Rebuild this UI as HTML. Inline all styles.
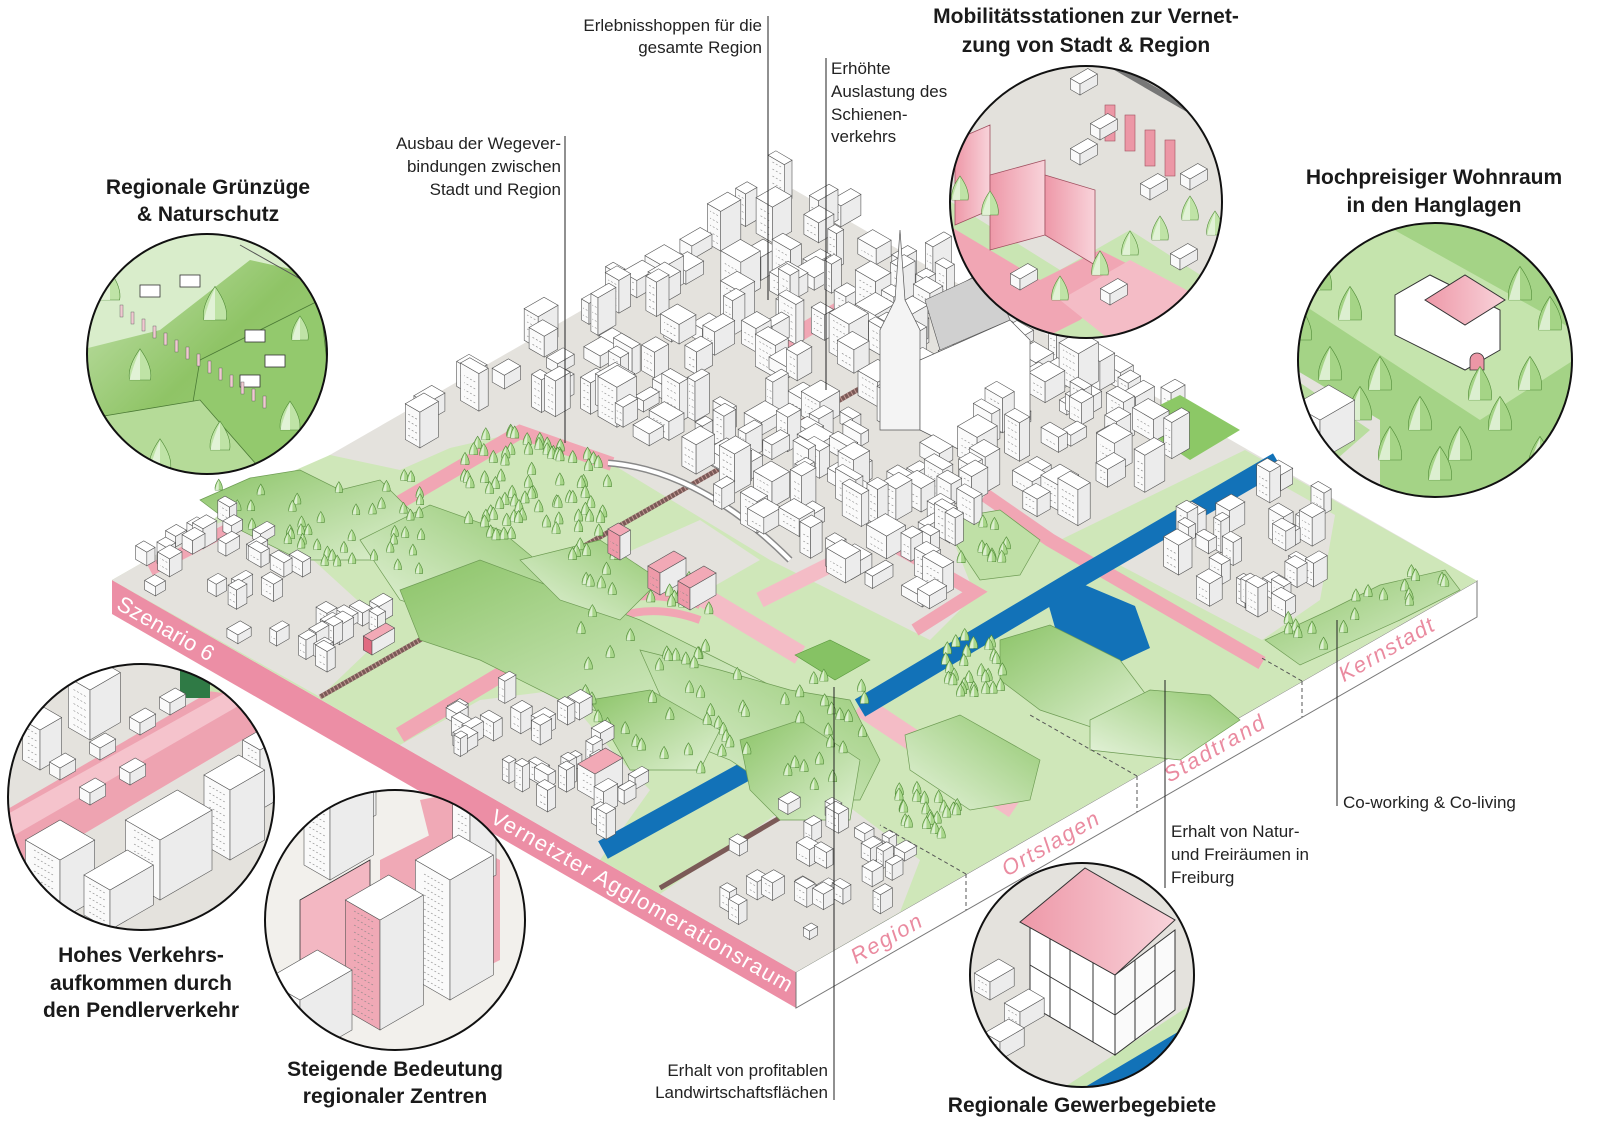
<!DOCTYPE html>
<html><head><meta charset="utf-8">
<style>
html,body{margin:0;padding:0;background:#fff;}
svg{display:block;}
.lb{font-family:"Liberation Sans",sans-serif;font-size:17px;fill:#222;}
.tt{font-family:"Liberation Sans",sans-serif;font-size:21px;font-weight:bold;fill:#1a1a1a;}
</style></head><body>
<svg id="s" width="1600" height="1121" viewBox="0 0 1600 1121" xmlns="http://www.w3.org/2000/svg">
<defs>
<linearGradient id="hill" x1="0" y1="0" x2="1" y2="1"><stop offset="0" stop-color="#8cc468"/><stop offset="1" stop-color="#dff0d2"/></linearGradient>
<linearGradient id="hill2" x1="1" y1="0" x2="0" y2="1"><stop offset="0" stop-color="#92c86f"/><stop offset="1" stop-color="#e6f3dc"/></linearGradient>
<linearGradient id="pk" x1="0" y1="0" x2="1" y2="0"><stop offset="0" stop-color="#ee98a8"/><stop offset="1" stop-color="#f8d3da"/></linearGradient>
<linearGradient id="gc" x1="0" y1="0" x2="1" y2="1"><stop offset="0" stop-color="#cfe8bd"/><stop offset="0.5" stop-color="#8fc466"/><stop offset="1" stop-color="#a6d284"/></linearGradient>
<clipPath id="c1"><circle cx="207" cy="354" r="120"/></clipPath>
<clipPath id="c2"><circle cx="1086" cy="202" r="136"/></clipPath>
<clipPath id="c3"><circle cx="1435" cy="360" r="137"/></clipPath>
<clipPath id="c4"><circle cx="141" cy="797" r="133"/></clipPath>
<clipPath id="c5"><circle cx="395" cy="920" r="130"/></clipPath>
<clipPath id="c6"><circle cx="1082" cy="975" r="112"/></clipPath>
</defs>

<polygon points="112,580 796,972 796,1008 112,614" fill="#ec8ea5"/>
<polygon points="796,972 1477,581 1477,617 796,1008" fill="#fff" stroke="#777" stroke-width="1"/>
<polygon points="793,189 112,580 796,972 1477,581" fill="#e4e2dd"/>
<polygon points="330,455 400,470 450,448 520,432 612,464 770,560 870,610 930,640 975,595 955,545 1010,505 1060,540 1245,450 1477,581 796,972 112,580 200,530 250,490" fill="#cfe7b9"/>
<polygon points="112,580 200,530 240,515 300,548 390,630 320,697" fill="#e4e2dd"/>
<polygon points="400,745 480,700 560,690 620,760 650,790 600,860" fill="#e4e2dd"/>
<polygon points="660,894 790,805 840,800 920,860 900,912 796,972" fill="#e4e2dd"/>
<polygon points="1110,560 1262,474 1335,515 1320,600 1262,640" fill="#e4e2dd"/>
<polygon points="610,560 700,520 760,560 690,600" fill="#e4e2dd"/>
<g fill="none" stroke="#f1a6b4" stroke-linecap="butt">
<polyline points="395,505 520,432 612,464" stroke-width="14"/>
<polyline points="893,545 975,592 915,630" stroke-width="13"/>
<polyline points="985,495 1050,540 1262,663" stroke-width="14"/>
<polyline points="700,595 800,655" stroke-width="20" stroke="#f4bcc6"/>
<polyline points="760,600 830,565" stroke-width="16" stroke="#f4bcc6"/>
<polyline points="860,705 1015,808" stroke-width="22" stroke="#f4bcc6"/>
<polyline points="400,735 505,672" stroke-width="16"/>
<polyline points="150,570 265,510" stroke-width="12"/>
<polyline points="780,345 880,285" stroke-width="16"/>
<path d="M590,610 Q640,585 700,605" stroke-width="8"/>
<path d="M600,625 Q645,600 700,620" stroke-width="8"/>
</g>
<g fill="none" stroke="#1272b8" stroke-width="20">
<polyline points="603,850 775,755"/>
<polyline points="860,708 1075,580 1278,462"/>
</g>
<polygon points="1048,603 1085,585 1135,606 1150,648 1120,662 1060,645" fill="#1272b8"/>
<g stroke="#7b5a57" fill="none">
<line x1="320" y1="697" x2="880" y2="377" stroke-width="5"/>
<line x1="320" y1="697" x2="880" y2="377" stroke-width="5" stroke="#c49a95" stroke-dasharray="1 3"/>
<line x1="660" y1="888" x2="800" y2="806" stroke-width="5"/>
</g>
<path d="M608,463 Q700,470 790,560" fill="none" stroke="#888" stroke-width="7"/>
<path d="M608,463 Q700,470 790,560" fill="none" stroke="#fff" stroke-width="4"/>
<g stroke="#6f9d55" stroke-width="0.7">
<polygon points="200,500 250,478 300,470 340,490 380,480 420,520 380,560 300,560 240,530" fill="url(#hill)"/>
<polygon points="360,540 430,505 500,530 560,580 530,620 460,620 400,600" fill="url(#hill2)"/>
<polygon points="400,590 480,560 560,590 640,620 720,660 780,690 740,720 660,730 560,700 480,660 420,640" fill="url(#hill)"/>
<polygon points="520,560 600,540 660,580 620,620 560,600" fill="url(#hill2)"/>
<polygon points="640,650 720,670 790,690 850,700 880,760 860,800 790,800 730,760 680,740" fill="url(#hill2)"/>
<polygon points="740,740 800,720 860,760 850,820 780,820 750,790" fill="url(#hill)"/>
<polygon points="590,700 650,690 720,730 700,770 630,770" fill="url(#hill)"/>
<polygon points="905,735 960,715 1040,760 1030,800 970,810 910,770" fill="url(#hill2)"/>
<polygon points="1000,640 1050,625 1120,660 1150,700 1100,730 1040,710 1000,680" fill="url(#hill)"/>
<polygon points="1090,720 1150,690 1210,695 1240,720 1180,760 1090,750" fill="url(#hill2)"/>
<polygon points="1265,640 1330,610 1380,585 1445,570 1460,590 1400,620 1300,665" fill="url(#hill)"/>
<polygon points="940,520 1000,510 1040,540 1020,575 980,580" fill="#bfe0a6"/>
</g>
<polygon points="795,655 830,640 870,660 835,680" fill="#86c264" stroke="#5a9a3e" stroke-width="0.6"/>
<g id="gfx"></g>

<g clip-path="url(#c1)">
<rect x="80" y="230" width="260" height="250" fill="url(#gc)"/>
<polygon points="80,230 340,230 340,280 250,260 160,330 80,350" fill="#d9edcb"/>
<polygon points="200,360 320,300 340,480 180,480" fill="#93c96d" stroke="#4b7a35" stroke-width="0.8"/>
<polygon points="80,420 200,400 270,480 80,480" fill="#b5db98" stroke="#4b7a35" stroke-width="0.8"/>
<line x1="240" y1="245" x2="320" y2="290" stroke="#555" stroke-width="1"/>
<g id="c1g"></g>
</g>
<circle cx="207" cy="354" r="120" fill="none" stroke="#111" stroke-width="2"/>

<g clip-path="url(#c2)">
<rect x="948" y="64" width="276" height="276" fill="#e3e1dc"/>
<polygon points="948,200 1060,270 1130,230 1224,290 1224,340 948,340" fill="#c9e5b3"/>
<polygon points="948,225 1040,280 1100,250 1140,270 1080,320 1040,340 948,300" fill="#f1a6b4"/>
<polygon points="1060,300 1130,260 1224,310 1224,340 1110,340" fill="#f4bcc6"/>
<polygon points="955,140 990,125 990,210 955,225" fill="url(#pk)" stroke="#a05060" stroke-width="0.8"/>
<polygon points="990,175 1045,160 1045,235 990,250" fill="url(#pk)" stroke="#a05060" stroke-width="0.8"/>
<polygon points="1045,175 1095,190 1095,265 1045,235" fill="url(#pk)" stroke="#a05060" stroke-width="0.8"/>
<g fill="#ec97a6" stroke="#a05060" stroke-width="0.6">
<rect x="1105" y="105" width="10" height="36"/><rect x="1125" y="115" width="10" height="36"/><rect x="1145" y="130" width="10" height="36"/><rect x="1165" y="140" width="10" height="36"/>
</g>
<path d="M1110,64 L1224,130" stroke="#777" stroke-width="6" fill="none"/>
<g id="c2g"></g>
</g>
<circle cx="1086" cy="202" r="136" fill="none" stroke="#111" stroke-width="2"/>

<g clip-path="url(#c3)">
<rect x="1296" y="222" width="278" height="278" fill="#a4d386"/>
<polygon points="1296,230 1380,222 1574,330 1574,360 1480,420 1296,300" fill="#c5e4ad"/>
<polygon points="1296,370 1380,420 1380,500 1296,500" fill="#e4e2dd"/>
<polygon points="1296,380 1370,430 1290,500" fill="#b9dd9f"/>
<polygon points="1395,295 1430,275 1500,310 1500,350 1465,370 1395,335" fill="#fff" stroke="#333" stroke-width="1"/>
<polygon points="1425,300 1465,275 1505,300 1465,325" fill="url(#pk)" stroke="#333" stroke-width="1"/>
<path d="M1470,360 a7,7 0 0 1 14,0 v10 h-14z" fill="#ec97a6" stroke="#333" stroke-width="0.8"/>
<g id="c3g"></g>
</g>
<circle cx="1435" cy="360" r="137" fill="none" stroke="#111" stroke-width="2"/>

<g clip-path="url(#c4)">
<rect x="6" y="662" width="270" height="270" fill="#e4e2dd"/>
<polygon points="6,810 230,680 276,690 276,720 6,880" fill="#eea3b1"/>
<polygon points="6,815 230,690 240,705 6,840" fill="#f5c3cc"/>
<polygon points="180,660 260,660 276,700 200,690" fill="#c9e5b3"/>
<rect x="180" y="670" width="30" height="28" fill="#2f7a45"/>
<g id="c4g"></g>
</g>
<circle cx="141" cy="797" r="133" fill="none" stroke="#111" stroke-width="2"/>

<g clip-path="url(#c5)">
<rect x="265" y="790" width="262" height="262" fill="#f2f0ec"/>
<polygon points="380,860 440,830 500,860 500,960 440,990 380,960" fill="#f0a9b6"/>
<polygon points="300,900 370,860 370,990 300,1030" fill="#f3b7c2" stroke="#333" stroke-width="0.8"/>
<polygon points="420,800 470,790 490,880 440,880" fill="#f0a9b6"/>
<g id="c5g"></g>
</g>
<circle cx="395" cy="920" r="130" fill="none" stroke="#111" stroke-width="2"/>

<g clip-path="url(#c6)">
<rect x="968" y="860" width="230" height="230" fill="#e4e2dd"/>
<polygon points="1060,1090 1198,1000 1198,1030 1090,1090" fill="#c9e5b3"/>
<polygon points="1080,1090 1198,1020 1198,1090" fill="#1272b8"/>
<polygon points="1030,925 1030,1005 1115,1055 1115,975" fill="#fff" stroke="#333" stroke-width="1"/>
<polygon points="1115,975 1175,930 1175,1010 1115,1055" fill="#fafafa" stroke="#333" stroke-width="1"/>
<g stroke="#333" stroke-width="1"><line x1="1050" y1="937" x2="1050" y2="1017"/><line x1="1070" y1="949" x2="1070" y2="1029"/><line x1="1093" y1="962" x2="1093" y2="1042"/><line x1="1030" y1="965" x2="1115" y2="1015"/><line x1="1135" y1="960" x2="1135" y2="1040"/><line x1="1155" y1="945" x2="1155" y2="1025"/><line x1="1115" y1="1015" x2="1175" y2="970"/></g>
<polygon points="1020,922 1085,868 1175,920 1115,975" fill="url(#pk)" stroke="#333" stroke-width="1"/>
<g id="c6g"></g>
</g>
<circle cx="1082" cy="975" r="112" fill="none" stroke="#111" stroke-width="2"/>

<text transform="translate(165,630) rotate(29.8)" text-anchor="middle" dominant-baseline="middle" font-family="Liberation Sans, sans-serif" font-size="22" fill="#fff" textLength="108">Szenario 6</text>
<text transform="translate(641,902) rotate(29.8)" text-anchor="middle" dominant-baseline="middle" font-family="Liberation Sans, sans-serif" font-size="22" fill="#fff" textLength="344">Vernetzter Agglomerationsraum</text>
<g font-family="Liberation Sans, sans-serif" font-size="22" font-style="italic" fill="#ea8ba0" text-anchor="middle" dominant-baseline="middle">
<text transform="translate(887,940) rotate(-29.8)" textLength="78">Region</text>
<text transform="translate(1051,845) rotate(-29.8)" textLength="108">Ortslagen</text>
<text transform="translate(1215,750) rotate(-29.8)" textLength="112">Stadtrand</text>
<text transform="translate(1387,651) rotate(-29.8)" textLength="106">Kernstadt</text>
</g>
<g stroke="#555" stroke-dasharray="4 3" stroke-width="1">
<line x1="966" y1="874" x2="966" y2="910"/><line x1="1137" y1="776" x2="1137" y2="812"/><line x1="1302" y1="681" x2="1302" y2="717"/>
<line x1="966" y1="874" x2="880" y2="825"/><line x1="1137" y1="776" x2="1030" y2="715"/><line x1="1302" y1="681" x2="1260" y2="657"/>
</g>

<g stroke="#222" stroke-width="1">
<line x1="768" y1="16" x2="768" y2="300"/>
<line x1="565" y1="136" x2="565" y2="443"/>
<line x1="826" y1="58" x2="826" y2="390"/>
<line x1="834" y1="687" x2="834" y2="1100"/>
<line x1="1165" y1="680" x2="1165" y2="888"/>
<line x1="1337" y1="620" x2="1337" y2="806"/>
</g>
<g class="lb">
<text x="762" y="31" text-anchor="end">Erlebnisshoppen für die</text>
<text x="762" y="53" text-anchor="end">gesamte Region</text>
<text x="561" y="149" text-anchor="end">Ausbau der Wegever-</text>
<text x="561" y="172" text-anchor="end">bindungen zwischen</text>
<text x="561" y="195" text-anchor="end">Stadt und Region</text>
<text x="831" y="74">Erhöhte</text>
<text x="831" y="97">Auslastung des</text>
<text x="831" y="120">Schienen-</text>
<text x="831" y="142">verkehrs</text>
<text x="828" y="1076" text-anchor="end">Erhalt von profitablen</text>
<text x="828" y="1098" text-anchor="end">Landwirtschaftsflächen</text>
<text x="1171" y="837">Erhalt von Natur-</text>
<text x="1171" y="860">und Freiräumen in</text>
<text x="1171" y="883">Freiburg</text>
<text x="1343" y="808">Co-working &amp; Co-living</text>
</g>
<g class="tt" text-anchor="middle">
<text x="208" y="194">Regionale Grünzüge</text>
<text x="208" y="221">&amp; Naturschutz</text>
<text x="1086" y="23">Mobilitätsstationen zur Vernet-</text>
<text x="1086" y="52">zung von Stadt &amp; Region</text>
<text x="1434" y="184">Hochpreisiger Wohnraum</text>
<text x="1434" y="212">in den Hanglagen</text>
<text x="141" y="962">Hohes Verkehrs-</text>
<text x="141" y="990">aufkommen durch</text>
<text x="141" y="1017">den Pendlerverkehr</text>
<text x="395" y="1076">Steigende Bedeutung</text>
<text x="395" y="1103">regionaler Zentren</text>
<text x="1082" y="1112">Regionale Gewerbegebiete</text>
</g>
</svg>
<script>
(function(){
var seed=12345;function rnd(){seed|=0;seed=seed+0x6D2B79F5|0;var t=Math.imul(seed^seed>>>15,1|seed);t=t+Math.imul(t^t>>>7,61|t)^t;return((t^t>>>14)>>>0)/4294967296;}
function inP(x,y,p){var c=false;for(var i=0,j=p.length-1;i<p.length;j=i++){var xi=p[i][0],yi=p[i][1],xj=p[j][0],yj=p[j][1];if(((yi>y)!=(yj>y))&&(x<(xj-xi)*(y-yi)/(yj-yi)+xi))c=!c;}return c;}
var items=[];
function box(g,x,y,w,d,h,top,side){
 var rx=0.866,ry=-0.5;
 var p0=[x,y],p1=[x+w*rx,y+w*ry],p3=[x-d*rx,y+d*ry],p2=[p1[0]-d*rx,p1[1]+d*ry];
 function s(a){return a[0].toFixed(1)+","+a[1].toFixed(1);}
 function u(a){return [a[0],a[1]-h];}
 var str='<polygon points="'+s(p0)+' '+s(p3)+' '+s(u(p3))+' '+s(u(p0))+'" fill="'+(side||"#fafafa")+'" stroke="#555" stroke-width="0.6"/>'+
 '<polygon points="'+s(p0)+' '+s(p1)+' '+s(u(p1))+' '+s(u(p0))+'" fill="#ececec" stroke="#555" stroke-width="0.6"/>'+
 '<polygon points="'+s(u(p0))+' '+s(u(p1))+' '+s(u(p2))+' '+s(u(p3))+'" fill="'+(top||"#fff")+'" stroke="#555" stroke-width="0.6"/>';
 if(h>14){for(var k=6;k<h-4;k+=7){str+='<line x1="'+(x-d*rx*0.2)+'" y1="'+(y-k-d*0.1)+'" x2="'+(x-d*rx*0.8)+'" y2="'+(y-k-d*0.4)+'" stroke="#888" stroke-width="0.6" stroke-dasharray="2 2"/>';}}
 items.push({y:y,g:g,s:str});
}
function tree(g,x,y,s,col){
 var str='<path d="M'+x+','+(y-s*2.4)+' Q'+(x+s)+','+(y-s)+' '+(x+s*0.8)+','+y+' L'+(x-s*0.8)+','+y+' Q'+(x-s)+','+(y-s)+' '+x+','+(y-s*2.4)+'Z" fill="'+(col||"#a8d68a")+'" stroke="#4f8a36" stroke-width="0.6"/><path d="M'+(x-s*0.8)+','+y+' Q'+(x-s*0.5)+','+(y-s*1.2)+' '+x+','+(y-s*2.3)+' L'+x+','+y+'Z" fill="#eaf5e2" opacity="0.8"/>';
 items.push({y:y,g:g,s:str});
}
function scatter(poly,n,fn){var bx=poly.map(function(p){return p[0]}),by=poly.map(function(p){return p[1]});var x0=Math.min.apply(0,bx),x1=Math.max.apply(0,bx),y0=Math.min.apply(0,by),y1=Math.max.apply(0,by);var c=0,tries=0;while(c<n&&tries<n*50){tries++;var x=x0+rnd()*(x1-x0),y=y0+rnd()*(y1-y0);if(inP(x,y,poly)){fn(x,y);c++;}}}
function flush(id){items.sort(function(a,b){return a.y-b.y;});var h="";items.forEach(function(it){h+=it.s;});document.getElementById(id).innerHTML=h;items=[];}
var G="gfx";
var city=[[793,195],[1235,452],[1060,535],[1010,500],[955,540],[965,590],[930,625],[870,600],[790,548],[700,508],[612,458],[520,425],[450,442],[400,462],[340,455],[480,372],[640,280]];
scatter(city,210,function(x,y){var w=8+rnd()*16,d=8+rnd()*16;box(G,x,y,w,d,10+rnd()*30);});
var t1=[[118,580],[200,533],[240,518],[300,552],[385,628],[322,692]];
scatter(t1,34,function(x,y){box(G,x,y,7+rnd()*10,7+rnd()*10,8+rnd()*14);});
var t2=[[410,742],[480,703],[560,693],[615,760],[640,790],[600,852]];
scatter(t2,30,function(x,y){box(G,x,y,7+rnd()*10,7+rnd()*10,10+rnd()*16);});
var t3=[[680,890],[790,810],[840,805],[915,860],[895,905],[800,962]];
scatter(t3,26,function(x,y){box(G,x,y,7+rnd()*8,7+rnd()*8,8+rnd()*12);});
var t4=[[1115,560],[1262,478],[1330,515],[1315,600],[1262,636]];
scatter(t4,28,function(x,y){box(G,x,y,8+rnd()*10,8+rnd()*10,12+rnd()*20);});
box(G,660,595,30,14,22,"#f2a9b6","#ee9aa9");box(G,690,610,30,14,22,"#f2a9b6","#ee9aa9");
box(G,620,560,12,14,24,"#f2a9b6","#ee9aa9");
box(G,595,800,32,20,26,"#f2a9b6");
box(G,372,655,26,10,14,"#f2a9b6","#e06a80");
items.push({y:430,g:G,s:'<polygon points="880,430 880,330 895,300 900,230 905,300 920,330 920,430" fill="#f4f4f4" stroke="#555" stroke-width="0.7"/><polygon points="920,430 920,360 1010,320 1030,340 1030,420 960,450" fill="#fff" stroke="#555" stroke-width="0.7"/><polygon points="925,300 990,270 1010,320 940,350" fill="#d0d0d0" stroke="#555" stroke-width="0.6"/>'});
scatter([[455,445],[520,432],[612,464],[600,540],[470,540]],80,function(x,y){tree(G,x,y,5);});
scatter([[940,640],[1000,640],[1010,700],[950,700]],28,function(x,y){tree(G,x,y,5);});
scatter([[890,790],[960,790],[960,840],[900,840]],22,function(x,y){tree(G,x,y,5);});
scatter([[200,480],[420,480],[430,600],[260,560]],45,function(x,y){tree(G,x,y,4.5);});
scatter([[560,600],[880,690],[870,800],[600,760]],60,function(x,y){tree(G,x,y,5);});
scatter([[580,540],[760,600],[700,620],[560,580]],22,function(x,y){tree(G,x,y,5);});
scatter([[1280,620],[1450,560],[1460,590],[1300,660]],18,function(x,y){tree(G,x,y,5);});
scatter([[960,520],[1040,530],[1020,580],[960,570]],10,function(x,y){tree(G,x,y,5);});
items.push({y:440,g:G,s:'<polygon points="1130,420 1180,395 1240,430 1190,460" fill="#8cc866"/>'});
flush(G);
[[215,320,14],[140,380,13],[290,430,12],[160,470,13],[110,300,12],[220,450,12],[300,340,10]].forEach(function(t){tree("c1g",t[0],t[1],t[2],"#bfe3a6");});
[[140,285],[180,275],[245,330],[265,355],[240,375]].forEach(function(p){items.push({y:0,g:"c1g",s:'<rect x="'+p[0]+'" y="'+p[1]+'" width="20" height="12" fill="#fff" stroke="#333" stroke-width="0.8"/>'});});
for(var i=0;i<14;i++){items.push({y:0,g:"c1g",s:'<rect x="'+(120+i*11)+'" y="'+(305+i*7)+'" width="3" height="12" fill="#f0c9d0" stroke="#555" stroke-width="0.4"/>'});}
flush("c1g");
[[960,200,10],[990,215,10],[1100,275,10],[1130,255,10],[1160,240,10],[1190,220,10],[1215,235,10],[1060,300,10]].forEach(function(t){tree("c2g",t[0],t[1],t[2],"#bfe3a6");});
[[1080,165],[1100,140],[1150,200],[1190,190],[1020,290],[1110,305],[1180,270],[1080,95]].forEach(function(p){box("c2g",p[0],p[1],20,11,11);});
flush("c2g");
[[1320,290],[1350,320],[1330,380],[1360,420],[1390,460],[1420,430],[1460,460],[1500,430],[1530,390],[1550,330],[1480,400],[1540,470],[1300,340],[1380,390],[1440,480],[1520,300]].forEach(function(t){tree("c3g",t[0],t[1],14,"#a5d486");});
box("c3g",1320,460,40,30,40);
flush("c3g");
[[60,780],[100,760],[140,735],[170,715],[90,805],[130,785]].forEach(function(p){box("c4g",p[0],p[1],18,12,12);});
box("c4g",90,740,35,25,50);box("c4g",40,770,25,20,40);
box("c4g",160,900,60,40,60);box("c4g",230,860,40,30,70);box("c4g",110,930,50,30,40);box("c4g",60,920,40,40,60);box("c4g",260,810,25,20,60);
[[250,700],[270,720]].forEach(function(t){tree("c4g",t[0],t[1],12,"#bfe3a6");});
flush("c4g");
box("c5g",330,880,50,30,80);box("c5g",450,1000,50,40,120,"#fff");box("c5g",300,1060,60,40,60);box("c5g",380,1030,50,40,110,"#fff","#f0a9b6");box("c5g",470,890,30,20,80);box("c5g",350,830,30,20,40);
flush("c5g");
box("c6g",990,1000,28,18,18);box("c6g",1020,1030,28,18,18);box("c6g",1000,1060,28,18,18);
flush("c6g");
})();
</script>
</body></html>
